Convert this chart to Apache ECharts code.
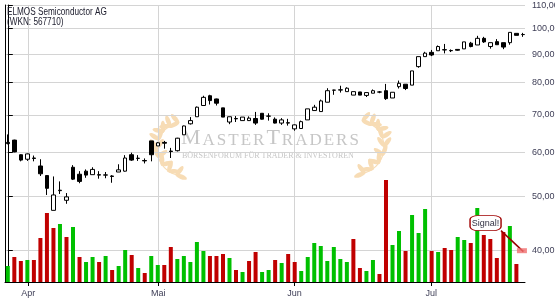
<!DOCTYPE html>
<html><head><meta charset="utf-8">
<script src="https://cdn.jsdelivr.net/npm/echarts@6/dist/echarts.min.js"></script>
<style>html,body{margin:0;padding:0;background:#fff}#c{width:555px;height:300px}</style>
</head><body><div id="c"></div>
<script>
// ---- data (80 trading days) ----
const opens  = [62.5,63.1,59.4,58.3,58.6,56.7,54.5,47.2,51.2,49.2, 56.4,54.8,55.5,54.7,54.7,54.6,54.4,55.3,55.5,59.4,
                58.5,58.0,62.9,61.6,62.5,60.3,60.4,64.5,67.5,69.5, 72.8,75.8,74.8,72.1,68.0,69.0,68.4,68.4,69.0,70.5,
                69.65,68.8,67.7,67.8,66.1,66.2,68.6,71.3,71.0,73.8, 77.55,77.6,77.1,76.0,77.0,75.9,76.6,77.0,77.4,75.1,
                78.7,79.5,79.2,85.5,89.1,90.7,91.3,91.7,91.4,91.8, 92.0,94.2,93.5,96.1,92.9,94.8,94.4,94.4,98.1,97.6];
const closes = [62.2,60.1,58.1,59.6,58.5,54.9,51.7,50.3,51.3,49.9, 53.7,53.2,54.6,55.9,54.6,54.65,54.3,55.8,58.6,58.1,
                58.55,57.9,59.4,62.4,62.3,60.2,63.6,66.9,68.4,72.3, 75.3,74.3,73.5,69.4,69.5,68.9,69.4,69.1,67.7,68.8,
                69.7,67.7,68.6,67.7,67.2,68.1,71.8,72.3,74.2,77.4, 77.6,77.7,78.2,77.1,76.0,76.8,77.4,76.95,74.9,76.9,
                79.8,78.1,84.0,89.1,90.4,89.7,92.9,91.6,91.3,91.5, 94.7,92.9,96.1,94.7,94.4,93.6,92.7,98.5,97.3,97.65];
const lows   = [62.0,60.0,57.8,57.9,57.8,54.4,50.3,47.2,50.5,48.5, 53.5,52.8,54.0,54.7,53.8,53.9,52.9,55.3,55.4,57.9,
                57.9,57.3,57.8,61.6,60.9,58.6,60.2,64.5,67.3,69.5, 72.8,73.1,72.8,69.4,67.4,68.0,68.4,68.3,67.2,68.7,
                68.4,67.6,67.2,67.0,65.6,66.2,68.6,71.3,71.0,73.8, 76.1,76.8,77.1,76.0,76.0,75.4,76.6,76.6,74.5,75.1,
                78.1,77.6,79.2,85.1,89.1,89.3,91.3,90.3,90.8,91.3, 92.0,92.6,93.5,94.3,92.1,93.6,91.9,93.6,97.3,96.7];
const highs  = [64.6,63.2,59.5,59.7,59.2,58.3,54.6,54.3,53.2,50.7, 56.9,55.5,55.9,56.4,55.5,55.3,54.6,57.1,59.3,59.9,
                59.3,58.5,62.9,62.6,62.9,61.1,63.7,67.0,69.4,72.5, 75.8,76.1,74.9,72.1,69.5,69.7,69.4,69.6,70.9,70.5,
                70.5,69.3,69.1,68.9,67.3,68.4,71.8,73.0,74.6,78.2, 77.7,79.0,78.5,77.1,77.0,76.8,77.8,77.3,79.6,76.9,
                80.7,79.5,84.0,89.1,90.9,91.6,93.3,93.9,91.8,91.9, 94.7,94.7,97.1,96.7,94.4,95.8,94.4,98.5,98.1,98.3];
// volume in thousand shares (last day: none)
const volumes = [16,25,21,22,22,44,69,54,58,45, 55,25,20,25,20,26,12,16,32,27,
                 14,9,26,17,17,35,23,26,20,40, 31,26,26,28,24,12,10,21,30,10,
                 12,22,19,28,20,11,25,39,36,21, 35,23,20,43,14,11,22,8,102,37,
                 51,31,67,49,73,31,30,34,32,45, 42,39,74,47,43,24,50,56,18,null];
// 1 = close above previous close (green volume), 0 = below (red)
const volumeUp = [1,0,0,1,0,0,0,0,1,0, 1,0,1,1,0,1,0,1,1,0,
                  1,0,1,1,0,0,1,1,1,1, 1,0,0,0,1,0,1,0,0,1,
                  1,0,1,0,0,1,1,1,1,1, 1,1,1,0,0,1,1,0,0,1,
                  1,0,1,1,1,0,1,0,0,1, 1,0,1,0,0,0,0,1,0,0];
const priceTicks = [40,50,60,70,80,90,100,110];
const monthTicks = [3.14, 23.07, 43.97, 64.94];     // month starts, in trading-day units
const monthLabels = ['Apr','Mai','Jun','Jul'];
const titleLines = ['ELMOS Semiconductor AG','(WKN: 567710)'];
const signalText = 'Signal!';
const signalBoxAt = [73.27, 44.78];
const signalLineFrom = [75.64, 43.41];
const signalLineTo = [79.07, 39.8];
const signalMarkAt = [78.85, 39.95];

function hasFont(f) {
  const c = document.createElement('canvas').getContext('2d');
  const s = 'ELMOS Semiconductor 0123456789';
  c.font = '20px monospace'; const a = c.measureText(s).width;
  c.font = "20px '" + f + "', monospace"; return Math.abs(c.measureText(s).width - a) > 0.5;
}
const NARROW = hasFont('Liberation Sans Narrow') ? 'Liberation Sans Narrow' : null;
const FONT = NARROW ? "'Liberation Sans Narrow',sans-serif" : "'Liberation Sans',Arial,sans-serif";
const LSIZE = NARROW ? 10 : 9;
const TSCALE = NARROW ? 1 : 0.82;
const SERIF = "'Liberation Serif','DejaVu Serif',serif";
const GREEN = '#00c000', RED = '#c00000', GRID = '#d4d4d4', LBL = '#404058';

const candleData = opens.map((o, i) => [i, o, closes[i], lows[i], highs[i]]);
const volData = volumes.map((v, i) => v == null ? null : ({
  value: [i, v], itemStyle: { color: volumeUp[i] ? GREEN : RED }
})).filter(d => d);

// --- watermark laurels (decorative) ---
function laurel(cx, cy, r, dir) {
  const out = [];
  for (let k = 0; k < 9; k++) {
    const th = (-78 + k * 19) * Math.PI / 180;
    const px = cx + dir * r * Math.cos(th), py = cy + r * Math.sin(th);
    const ty = -Math.cos(th);
    const base = Math.atan2(ty, (dir < 0 ? Math.sin(th) : -Math.sin(th)));
    [-0.65, 0.65].forEach(off => {
      const a = base + off;
      const lx = px + Math.cos(a) * 5, ly = py + Math.sin(a) * 5;
      out.push({ type: 'ellipse', x: lx, y: ly, rotation: -a, silent: true, z: 0,
        shape: { cx: 0, cy: 0, rx: 6, ry: 2.3 }, style: { fill: '#f7dcb5' } });
    });
  }
  out.push({ type: 'arc', silent: true, z: 0, shape: { cx: cx, cy: cy, r: r,
      startAngle: dir < 0 ? Math.PI * 0.57 : -Math.PI * 0.43, endAngle: dir < 0 ? Math.PI * 1.43 : Math.PI * 0.43 },
    style: { stroke: '#f7dcb5', lineWidth: 1.2, fill: null } });
  return out;
}
const letters = 'MASTERTRADERS'.split('');
const wmText = letters.map((ch, i) => (i === 0 || i === 6) ? '{b|' + ch + '}' : '{s|' + ch + '}').join('');

const chart = echarts.init(document.getElementById('c'), null, { renderer: 'canvas' });
chart.setOption({
  animation: false,
  backgroundColor: '#fff',
  textStyle: { fontFamily: FONT },
  graphic: [].concat(laurel(184, 149, 27, -1), laurel(357, 147, 27, 1), [
    { type: 'text', left: 181, top: 127, silent: true, z: 0,
      style: { text: wmText, rich: {
        b: { fontFamily: SERIF, fontSize: 22, fill: '#c6c6c6', padding: [0, 1, 0, 1], verticalAlign: 'bottom' },
        s: { fontFamily: SERIF, fontSize: 17, fill: '#c6c6c6', padding: [0, 1, 0, 1], verticalAlign: 'bottom' } } } },
    { type: 'text', left: 182, top: 152, silent: true, z: 0,
      style: { text: 'BÖRSENFORUM FÜR TRADER & INVESTOREN', font: '8px ' + SERIF, fill: '#c6c6c6' } },
    { type: 'text', x: 7, y: 7.5, scaleX: TSCALE, silent: true, z: 10,
      style: { text: titleLines.join('\n'), font: '10px ' + FONT, fill: '#1c1c2c', lineHeight: 10 } }
  ]),
  grid: { left: 5, right: 30, top: 5, bottom: 18, outerBoundsMode: 'none', containLabel: false },
  xAxis: {
    type: 'value', min: -0.43, max: 79.32,
    axisLine: { show: true, onZero: false, lineStyle: { color: '#000', width: 1 } },
    axisTick: { show: true, length: 4, customValues: monthTicks, lineStyle: { color: '#000' } },
    axisLabel: { customValues: monthTicks, margin: 7, color: LBL, fontSize: LSIZE, fontFamily: FONT,
      formatter: v => { let b = 0; monthTicks.forEach((t, k) => { if (Math.abs(t - v) < Math.abs(monthTicks[b] - v)) b = k; }); return monthLabels[b]; } },
    splitLine: { show: true, lineStyle: { color: GRID, width: 1 } }
  },
  yAxis: [
    { type: 'log', position: 'right', min: 35.1, max: 110.3,
      axisLine: { show: true, lineStyle: { color: '#000', width: 1 } },
      axisTick: { show: true, length: 5, customValues: priceTicks, lineStyle: { color: '#000' } },
      axisLabel: { customValues: priceTicks, margin: 7, color: LBL, fontSize: LSIZE, fontFamily: FONT,
        formatter: v => Number(v).toFixed(2).replace('.', ',') },
      splitLine: { show: true, lineStyle: { color: GRID, width: 1 } } },
    { type: 'value', position: 'left', min: 0, max: 277,
      axisLine: { show: true, onZero: false, lineStyle: { color: '#000', width: 1 } },
      axisTick: { show: false }, axisLabel: { show: false }, splitLine: { show: false } }
  ],
  series: [
    { type: 'bar', name: 'Volumen', yAxisIndex: 1, barWidth: 4, data: volData, silent: true, z: 2 },
    { type: 'candlestick', name: 'ELMOS', yAxisIndex: 0, barWidth: 4, data: candleData, z: 3,
      itemStyle: { color: '#fff', color0: '#000', borderColor: '#000', borderColor0: '#000', borderColorDoji: '#000', borderWidth: 1 },
      markLine: { silent: true, symbol: ['none', 'none'], animation: false,
        label: { show: false }, lineStyle: { color: '#990000', width: 1.5, type: 'solid' },
        data: [[{ coord: signalLineFrom }, { coord: signalLineTo }]] },
      markPoint: { silent: true, animation: false, data: [
        { coord: signalMarkAt, symbol: 'rect', symbolSize: [10, 5], itemStyle: { color: 'rgba(240,110,110,0.8)' }, label: { show: false } },
        { coord: signalBoxAt, symbol: 'roundRect', symbolSize: [31, 15],
          itemStyle: { color: '#fff', borderColor: '#a00000', borderWidth: 1 },
          label: { show: true, position: 'inside', formatter: signalText, color: '#333344', fontSize: LSIZE, fontFamily: FONT } }
      ] } }
  ]
});
</script></body></html>
